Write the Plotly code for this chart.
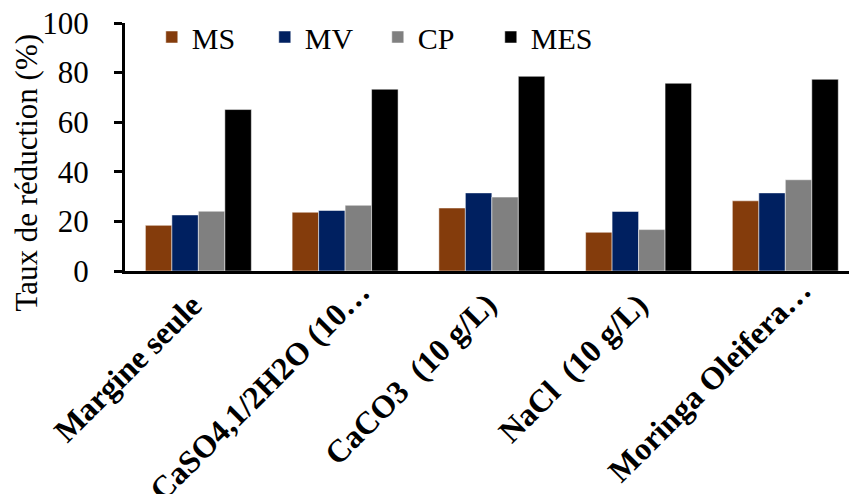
import plotly.graph_objects as go

categories = ["Margine seule", "CaSO4,1/2H2O (10…", "CaCO3  (10 g/L)", "NaCl  (10 g/L)", "Moringa Oleifera…"]
series_names = ["MS", "MV", "CP", "MES"]
ms = [18.4, 23.7, 25.4, 15.6, 28.3]
mv = [22.6, 24.4, 31.5, 24.0, 31.5]
cp = [24.1, 26.5, 29.8, 16.7, 36.8]
mes = [65.1, 73.3, 78.5, 75.7, 77.3]
colors = ["#843C0C", "#002060", "#808080", "#000000"]
y_ticks = [0, 20, 40, 60, 80, 100]
y_title = "Taux de réduction (%)"

# label placement offsets (pixels), styling only
label_dx = [13, 34, 14, 19, 36]
label_dy = [-13, 0, -12, -13, 2]

fig = go.Figure()
for name, vals, col in zip(series_names, [ms, mv, cp, mes], colors):
    fig.add_trace(go.Bar(name=name, x=categories, y=vals,
                         marker=dict(color=col, line=dict(color="white", width=0.5))))

font_family = "Liberation Serif"
annotations = [dict(text=y_title, textangle=-90, xref="paper", yref="paper",
                    x=-0.1354, y=0.397, xanchor="center", yanchor="middle", showarrow=False,
                    font=dict(family=font_family, size=31, color="black"))]
for cat, dx, dy in zip(categories, label_dx, label_dy):
    annotations.append(dict(text=cat, textangle=-45, xref="x", yref="y", x=cat, y=0,
                            xanchor="right", yanchor="top", xshift=dx, yshift=dy, showarrow=False,
                            font=dict(family=font_family, size=32, color="black", weight="bold")))

fig.update_layout(
    width=849, height=494,
    margin=dict(l=125, r=0, t=23, b=223, autoexpand=False),
    paper_bgcolor="white", plot_bgcolor="white",
    barmode="group", bargap=0.278, bargroupgap=0,
    font=dict(family=font_family, color="black", size=30),
    legend=dict(orientation="h", x=0.037, y=0.9435, xanchor="left", yanchor="middle",
                font=dict(family=font_family, size=30), entrywidth=68, entrywidthmode="pixels",
                bgcolor="rgba(0,0,0,0)", traceorder="normal"),
    xaxis=dict(showline=True, linecolor="black", linewidth=3, ticks="", automargin=False,
               range=[-0.5, 4.434], showticklabels=False,
               showgrid=False, zeroline=False),
    yaxis=dict(range=[0, 100], tickvals=y_ticks, showline=True, linecolor="black", linewidth=3,
               ticks="outside", ticklen=8, tickwidth=3, tickcolor="black", automargin=False,
               ticklabelstandoff=19,
               tickfont=dict(family=font_family, size=31), showgrid=False, zeroline=False),
    annotations=annotations,
)
fig.write_html("out.html")
